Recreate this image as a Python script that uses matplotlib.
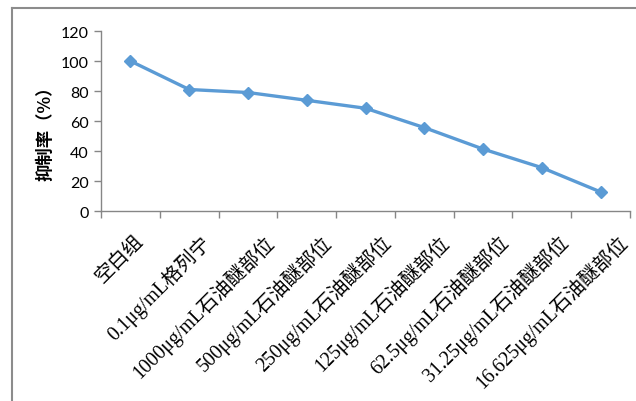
import matplotlib
matplotlib.use("Agg")
import matplotlib.pyplot as plt
import matplotlib.transforms as mtransforms
from matplotlib.lines import Line2D

categories = ["空白组", "0.1μg/mL格列宁", "1000μg/mL石油醚部位", "500μg/mL石油醚部位",
              "250μg/mL石油醚部位", "125μg/mL石油醚部位", "62.5μg/mL石油醚部位",
              "31.25μg/mL石油醚部位", "16.625μg/mL石油醚部位"]
inhibition = [100, 81, 79, 73.8, 68.5, 55.6, 41.3, 28.9, 12.7]
y_ticks = [0, 20, 40, 60, 80, 100, 120]

W, H = 636, 402
fig = plt.figure(figsize=(W / 100, H / 100), dpi=100)
ax = fig.add_axes([101 / W, 1 - 212 / H, (630 - 101) / W, (212 - 32) / H])

axis_grey = "#868686"
line_blue = "#5B9BD5"
label_font = ["Liberation Serif", "Noto Sans CJK SC"]
label_size = 14.2

x = list(range(len(categories)))
ax.plot(x, inhibition, color=line_blue, lw=2.4, marker="D", ms=6.5,
        mec=line_blue, mfc=line_blue, clip_on=False, zorder=3)

ax.set_xlim(-0.5, len(categories) - 0.5)
ax.set_ylim(0, 120)
ax.set_yticks(y_ticks)
ax.set_yticklabels([str(v) for v in y_ticks], fontsize=11.5, family=["Lato", "DejaVu Sans"])

# category boundaries carry the tick marks; labels are placed separately
ax.set_xticks([i - 0.5 for i in range(len(categories) + 1)])
ax.set_xticklabels([])
ax.tick_params(axis="x", length=5, color=axis_grey, width=1)
ax.tick_params(axis="y", length=5, color=axis_grey, width=1, pad=4)

for s in ["top", "right"]:
    ax.spines[s].set_visible(False)
for s in ["left", "bottom"]:
    ax.spines[s].set_color(axis_grey)
    ax.spines[s].set_linewidth(1)

# rotated category labels, shifted right in proportion to their length
renderer = fig.canvas.get_renderer()
base = ax.get_xaxis_transform()
for i, lab in enumerate(categories):
    probe = fig.text(0, 0, lab, fontsize=label_size, family=label_font)
    width_px = probe.get_window_extent(renderer).width
    probe.remove()
    shift = mtransforms.ScaledTranslation((0.09 * width_px - 2) / 100, -20 / 100,
                                          fig.dpi_scale_trans)
    ax.text(i, 0, lab, transform=base + shift, rotation=45, rotation_mode="anchor",
            ha="right", va="top", fontsize=label_size, family=label_font, clip_on=False)

fig.text(45 / W, 1 - 129 / H, "抑制率（%）", rotation=90, ha="center", va="center",
         fontsize=12.5, fontweight="bold", family=["Noto Sans CJK SC", "DejaVu Sans"])

# outer chart frame
frame_kw = dict(color="#8c8c8c", lw=1.5, transform=fig.transFigure)
fig.add_artist(Line2D([11.5 / W, 11.5 / W], [0, 1 - 9 / H], **frame_kw))
fig.add_artist(Line2D([11.5 / W, 1], [1 - 9 / H, 1 - 9 / H], **frame_kw))

fig.savefig("out.png", dpi=100)
